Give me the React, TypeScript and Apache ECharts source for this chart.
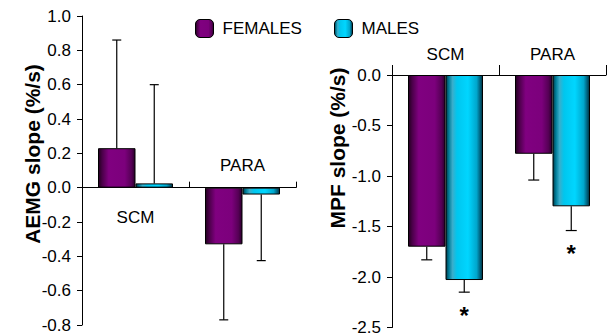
import React, { useEffect, useRef } from "react";
import * as echarts from "echarts";

const categories = ["SCM", "PARA"];
const seriesNames = ["FEMALES", "MALES"];

// Left panel: AEMG slope (%/s)
const aemgFemales = [0.23, -0.33];
const aemgFemalesErr = [0.63, 0.44];
const aemgMales = [0.025, -0.04];
const aemgMalesErr = [0.575, 0.385];
const aemgTicks = { min: -0.8, max: 1.0, interval: 0.2 };

// Right panel: MPF slope (%/s)
const mpfFemales = [-1.7, -0.78];
const mpfFemalesErr = [0.13, 0.26];
const mpfMales = [-2.03, -1.3];
const mpfMalesErr = [0.12, 0.24];
const mpfMalesSignificant = [true, true];
const mpfTicks = { min: -2.5, max: 0, interval: 0.5 };

const FONT = "'Liberation Sans', Arial, sans-serif";
const BAR_W = 37.5;

const femaleGrad = () =>
  new echarts.graphic.LinearGradient(0, 0, 1, 0, [
    { offset: 0, color: "#22001f" },
    { offset: 0.1, color: "#4a0048" },
    { offset: 0.28, color: "#800080" },
    { offset: 0.72, color: "#7c007c" },
    { offset: 0.9, color: "#560056" },
    { offset: 1, color: "#2a002a" },
  ]);
const maleGrad = () =>
  new echarts.graphic.LinearGradient(0, 0, 1, 0, [
    { offset: 0, color: "#003a48" },
    { offset: 0.08, color: "#007d99" },
    { offset: 0.18, color: "#3aaecb" },
    { offset: 0.3, color: "#00c6ee" },
    { offset: 0.6, color: "#00d6ff" },
    { offset: 0.84, color: "#00a6cc" },
    { offset: 0.94, color: "#005d78" },
    { offset: 1, color: "#002f3c" },
  ]);

function errSeries(
  name: string,
  axis: number,
  vals: number[],
  errs: number[],
  offset: number,
  cap: number,
  stars?: boolean[]
) {
  return {
    type: "custom",
    name,
    xAxisIndex: axis,
    yAxisIndex: axis,
    z: 5,
    encode: { x: 0, y: 1 },
    data: vals.map((v, i) => [i, v, errs[i], stars && stars[i] ? 1 : 0]),
    renderItem: (params: any, api: any) => {
      const i = api.value(0);
      const v = api.value(1);
      const e = api.value(2);
      const star = api.value(3);
      const end = v >= 0 ? v + e : v - e;
      const p0 = api.coord([i, v]);
      const p1 = api.coord([i, end]);
      const x = p0[0] + offset;
      const children: any[] = [
        { type: "line", shape: { x1: x, y1: p0[1], x2: x, y2: p1[1] }, style: { stroke: "#000", lineWidth: 1.2 } },
        { type: "line", shape: { x1: x - cap / 2, y1: p1[1], x2: x + cap / 2, y2: p1[1] }, style: { stroke: "#000", lineWidth: 1.2 } },
      ];
      if (star) {
        children.push({
          type: "text",
          x: x,
          y: p1[1] + (v >= 0 ? -12 : 11),
          style: { text: "*", font: `bold 24px ${FONT}`, fill: "#000", align: "center", verticalAlign: "top" },
        });
      }
      return { type: "group", children };
    },
  };
}

function catLabelSeries(axis: number, refVals: number[]) {
  return {
    type: "custom",
    xAxisIndex: axis,
    yAxisIndex: axis,
    encode: { x: 0, y: 1 },
    silent: true,
    data: categories.map((c, i) => [i, refVals[i]]),
    renderItem: (params: any, api: any) => {
      const i = api.value(0);
      const v = api.value(1);
      const p = api.coord([i, 0]);
      return {
        type: "text",
        x: p[0],
        y: p[1] + (v >= 0 ? 30 : -22),
        style: { text: categories[i], font: `17px ${FONT}`, fill: "#000", align: "center", verticalAlign: "middle" },
      };
    },
  };
}

export default function App() {
  const ref = useRef<HTMLDivElement>(null);
  useEffect(() => {
    if (!ref.current) return;
    const chart = echarts.init(ref.current, undefined, { renderer: "svg" });
    const axisLine = { lineStyle: { color: "#000", width: 1 } };
    const yLabel = (dec: number) => ({
      color: "#000",
      fontSize: 17,
      fontFamily: FONT,
      margin: 11,
      formatter: (v: number) => v.toFixed(dec),
    });
    chart.setOption({
      animation: false,
      backgroundColor: "#fff",
      legend: [
        {
          left: 190,
          top: 14,
          itemWidth: 18,
          itemHeight: 18,
          data: [{ name: "FEMALES", itemStyle: { color: femaleGrad(), borderColor: "#000", borderWidth: 1 } }],
          textStyle: { fontSize: 17, fontFamily: FONT, color: "#000", padding: [0, 0, 0, 4] },
          selectedMode: false,
        },
        {
          left: 329,
          top: 14,
          itemWidth: 18,
          itemHeight: 18,
          data: [{ name: "MALES", itemStyle: { color: maleGrad(), borderColor: "#000", borderWidth: 1 } }],
          textStyle: { fontSize: 17, fontFamily: FONT, color: "#000", padding: [0, 0, 0, 4] },
          selectedMode: false,
        },
      ],
      grid: [
        { left: 82, top: 16, width: 214, height: 309 },
        { left: 392, top: 75, width: 214, height: 253 },
      ],
      xAxis: [
        {
          type: "category",
          gridIndex: 0,
          data: categories,
          axisLine: { ...axisLine, onZero: true },
          axisTick: { show: true, inside: true, length: 6, lineStyle: { color: "#000" } },
          axisLabel: { show: false },
          splitLine: { show: false },
        },
        {
          type: "category",
          gridIndex: 1,
          data: categories,
          position: "top",
          axisLine: { ...axisLine, onZero: false },
          axisTick: { show: true, length: 10, lineStyle: { color: "#000" } },
          axisLabel: { color: "#000", fontSize: 17, fontFamily: FONT, margin: 12 },
          splitLine: { show: false },
        },
      ],
      yAxis: [
        {
          type: "value",
          gridIndex: 0,
          ...aemgTicks,
          axisLine: { show: true, ...axisLine },
          axisTick: { show: true, length: 5, lineStyle: { color: "#000" } },
          axisLabel: yLabel(1),
          splitLine: { show: false },
        },
        {
          type: "value",
          gridIndex: 1,
          ...mpfTicks,
          axisLine: { show: true, ...axisLine },
          axisTick: { show: true, length: 5, lineStyle: { color: "#000" } },
          axisLabel: yLabel(1),
          splitLine: { show: false },
        },
      ],
      graphic: [
        {
          type: "text",
          x: 32,
          y: 154,
          rotation: Math.PI / 2,
          style: { text: "AEMG slope (%/s)", font: `bold 21px ${FONT}`, fill: "#000", align: "center", verticalAlign: "middle" },
        },
        {
          type: "text",
          x: 337,
          y: 148,
          rotation: Math.PI / 2,
          style: { text: "MPF slope (%/s)", font: `bold 21px ${FONT}`, fill: "#000", align: "center", verticalAlign: "middle" },
        },
      ],
      series: [
        {
          type: "bar",
          name: seriesNames[0],
          xAxisIndex: 0,
          yAxisIndex: 0,
          data: aemgFemales,
          barWidth: BAR_W,
          barGap: "0%",
          itemStyle: { color: femaleGrad(), borderColor: "#000", borderWidth: 1 },
        },
        {
          type: "bar",
          name: seriesNames[1],
          xAxisIndex: 0,
          yAxisIndex: 0,
          data: aemgMales,
          barWidth: BAR_W,
          barGap: "0%",
          itemStyle: { color: maleGrad(), borderColor: "#000", borderWidth: 1 },
        },
        {
          type: "bar",
          name: seriesNames[0],
          xAxisIndex: 1,
          yAxisIndex: 1,
          data: mpfFemales,
          barWidth: BAR_W,
          barGap: "0%",
          itemStyle: { color: femaleGrad(), borderColor: "#000", borderWidth: 1 },
        },
        {
          type: "bar",
          name: seriesNames[1],
          xAxisIndex: 1,
          yAxisIndex: 1,
          data: mpfMales,
          barWidth: BAR_W,
          barGap: "0%",
          itemStyle: { color: maleGrad(), borderColor: "#000", borderWidth: 1 },
        },
        errSeries("errF0", 0, aemgFemales, aemgFemalesErr, -BAR_W / 2, 9),
        errSeries("errM0", 0, aemgMales, aemgMalesErr, BAR_W / 2, 9),
        errSeries("errF1", 1, mpfFemales, mpfFemalesErr, -BAR_W / 2, 11),
        errSeries("errM1", 1, mpfMales, mpfMalesErr, BAR_W / 2, 11, mpfMalesSignificant),
        catLabelSeries(0, aemgFemales),
      ],
    });
    return () => chart.dispose();
  }, []);
  return <div ref={ref} style={{ position: "fixed", left: 0, top: 0, width: 608, height: 336 }} />;
}
